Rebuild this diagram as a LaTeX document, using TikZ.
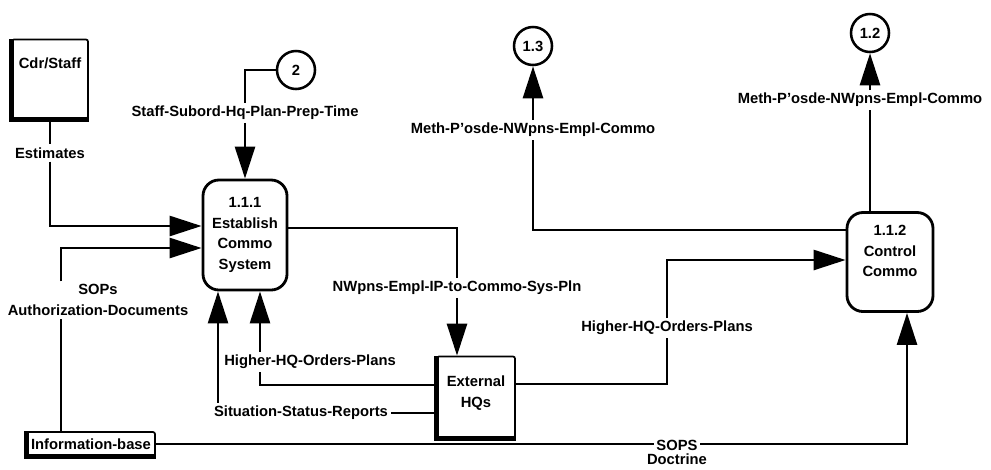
\documentclass[tikz,border=0pt]{standalone}
\usepackage{fontspec}
\setmainfont{Liberation Sans}
\usetikzlibrary{arrows.meta, positioning}
\tikzset{
	proc/.style={draw, line width=2pt, rounded corners=4mm, align=center},
	ent/.style={draw, line width=1.2pt, rounded corners=1.5pt},
	heavy/.style={line width=3.5pt},
	lbl/.style={font=\bfseries\fontsize{10.5}{14.5}\selectfont, inner sep=2pt, align=center},
	circ/.style={lbl, draw, circle, line width=1.8pt, minimum size=0.95cm, inner sep=0pt},
	wipe/.style={lbl, fill=white},
	pipe/.style={draw, line width=1.9pt},
	flow/.style={pipe, -{Triangle[length=8mm, width=5mm]}}
}
\begin{document}
\begin{tikzpicture}[x=0.025cm, y=-0.025cm]
		\useasboundingbox (0,0) rectangle (991,469);
		
		% Processes
		\node[proc, minimum width=2.1cm, minimum height=2.75cm] (est) at (245,235) {};
		\node[lbl] at (est) {1.1.1\\Establish\\Commo\\System};
		\node[proc, minimum width=2.15cm, minimum height=2.475cm] (ctl) at (890,262) {};
		\node[lbl] at (890,251) {1.1.2\\Control\\Commo};
		
		% External entities
		\node[ent, minimum width=1.9cm, minimum height=1.975cm] (cdr) at (50,79) {};
		\node[lbl] at (50,63) {Cdr/Staff};
		\node[ent, minimum width=1.95cm, minimum height=2.025cm] (ext) at (476,397) {};
		\node[lbl] at (476,393) {External\\HQs};
		\node[ent, minimum width=3.2cm, minimum height=0.6cm] (info) at (91,444) {};
		\node[lbl] at (info) {Information-base};
		\foreach \n in {cdr, ext, info}
			\draw[heavy] (\n.north west) -- (\n.south west) -- (\n.south east);
		
		% Other diagrams
		\node[circ] (c2) at (296,70) {2};
		\node[circ] (c13) at (533,46) {1.3};
		\node[circ] (c12) at (870,33) {1.2};
		
		% Flow labels
		\node[lbl] (lest) at (cdr.south |- 0,153) {Estimates};
		\node[lbl] (lsop) at (98,300) {SOPs\\Authorization-Documents};
		\node[lbl] (lstaff) at (est.north |- 0,113) {Staff-Subord-Hq-Plan-Prep-Time};
		\node[lbl] (lnw) at (457,288) {NWpns-Empl-IP-to-Commo-Sys-Pln};
		\node[lbl] (lhr) at (667,328) {Higher-HQ-Orders-Plans};
		\node[lbl] (lm13) at (533,130) {Meth-P'osde-NWpns-Empl-Commo};
		\node[lbl] (lm12) at (860,100) {Meth-P'osde-NWpns-Empl-Commo};
		
		% Flows
		\draw[pipe] (cdr) -- (lest);
		\draw[flow] (lest) |- (est.west |- 0,226);
		\draw[pipe] (61,0 |- info.north) -- (61,0 |- lsop.south);
		\draw[flow] (61,0 |- lsop.north) |- (est.west |- 0,248);
		\draw[pipe] (c2) -| (lstaff);
		\draw[flow] (lstaff) -- (est);
		\draw[pipe] (est.east |- 0,228) -| (lnw);
		\draw[flow] (lnw.south) -- (lnw.south |- ext.north);
		\draw[pipe] (ext.east |- 0,384) -| (lhr);
		\draw[flow] (lhr) |- (ctl.west |- 0,260);
		\draw[pipe] (ctl.west |- 0,230) -| (lm13);
		\draw[flow] (lm13) -- (c13);
		\draw[pipe] (c12.south |- ctl.north) -- (c12.south |- lm12.south);
		\draw[flow] (c12.south |- lm12.north) -- (c12.south);
		\draw[flow] (ext.west |- 0,385) -| (260,0 |- est.south);
		\node[wipe] (lhl) at (310,362) {Higher-HQ-Orders-Plans};
		\draw[flow] (ext.west |- 0,413) -| (218,0 |- est.south);
		\node[wipe] (lsit) at (301,413) {Situation-Status-Reports};
		\draw[flow] (info) -| (907,0 |- ctl.south);
		\node[wipe, label={[lbl, inner sep=0pt]below:Doctrine}] (lsops) at (677,445) {SOPS};
	\end{tikzpicture}
\end{document}
